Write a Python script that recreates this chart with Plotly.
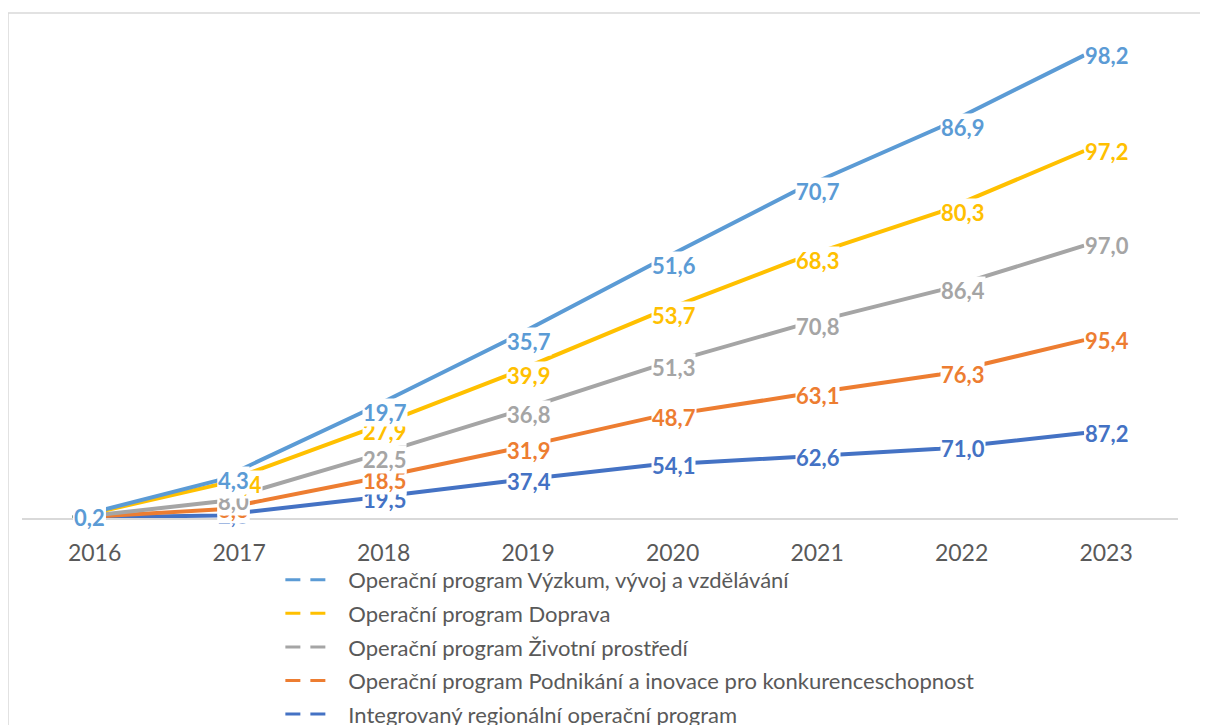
import plotly.graph_objects as go
import numpy as np

# Data (stacked lines, bottom series first)
years = [2016, 2017, 2018, 2019, 2020, 2021, 2022, 2023]

series_names = [
    "Integrovaný regionální operační program",
    "Operační program Podnikání a inovace pro konkurenceschopnost",
    "Operační program Životní prostředí",
    "Operační program Doprava",
    "Operační program Výzkum, vývoj a vzdělávání",
]
irop = [0.2, 2.6, 19.5, 37.4, 54.1, 62.6, 71.0, 87.2]
opik = [0.0, 6.0, 18.5, 31.9, 48.7, 63.1, 76.3, 95.4]
opzp = [0.0, 8.0, 22.5, 36.8, 51.3, 70.8, 86.4, 97.0]
opd = [0.0, 17.4, 27.9, 39.9, 53.7, 68.3, 80.3, 97.2]
opvvv = [0.2, 4.3, 19.7, 35.7, 51.6, 70.7, 86.9, 98.2]
series_values = [irop, opik, opzp, opd, opvvv]

colors = ["#4472C4", "#ED7D31", "#A5A5A5", "#FFC000", "#5B9BD5"]

fig = go.Figure()

# stacked lines (no fill)
for name, vals, col in zip(series_names, series_values, colors):
    fig.add_trace(go.Scatter(
        x=years, y=vals,
        mode='lines',
        stackgroup='one',
        fill='none',
        line=dict(color=col, width=4),
        name=name,
        showlegend=False,
        hoverinfo='skip'
    ))

# legend entries with the dashed key, top series first
for i, (name, col) in enumerate(zip(series_names[::-1], colors[::-1])):
    fig.add_trace(go.Scatter(
        x=[None], y=[None],
        mode='lines',
        line=dict(color=col, width=3, dash='15px,10px,15px,100px'),
        name=name,
        legendgroup=str(i),
    ))

# data labels with white background, right of each point
cum = np.cumsum(np.array(series_values), axis=0)
for k, (vals, col) in enumerate(zip(series_values, colors)):
    for x, v, c in zip(years, vals, cum[k]):
        fig.add_annotation(
            x=x, y=c,
            text=f"<b>{v:.1f}</b>".replace('.', ','),
            showarrow=False,
            xanchor='left', yanchor='middle',
            bgcolor='white',
            borderpad=0,
            font=dict(family='Lato', size=22, color=col)
        )

# chart area border
fig.add_shape(type='rect', xref='paper', yref='paper',
              x0=-0.0121, x1=1.03, y0=-0.6, y1=1.037,
              line=dict(color='#d9d9d9', width=1.5), layer='below')

fig.update_layout(
    width=1208, height=725,
    margin=dict(l=14, r=38, t=23, b=215, autoexpand=False),
    plot_bgcolor='white', paper_bgcolor='white',
    xaxis=dict(
        range=[2016 - 0.35, 2023 + 0.65],
        tickvals=years,
        ticktext=[str(y) for y in years],
        showgrid=False, zeroline=False,
        showline=True, linecolor='#d9d9d9', linewidth=1.5,
        ticks='', ticklabelshift=22, ticklabelstandoff=14,
        tickfont=dict(family='Lato', size=23, color='#595959')
    ),
    yaxis=dict(
        range=[0, 500],
        showgrid=False, zeroline=False, showticklabels=False, showline=False
    ),
    showlegend=True,
    legend=dict(
        x=0.2235, y=-0.084, xanchor='left', yanchor='top',
        traceorder='grouped', tracegroupgap=2,
        font=dict(family='Lato', size=22, color='#595959'),
        itemwidth=58, bgcolor='rgba(0,0,0,0)'
    )
)

fig.write_html("out.html")
